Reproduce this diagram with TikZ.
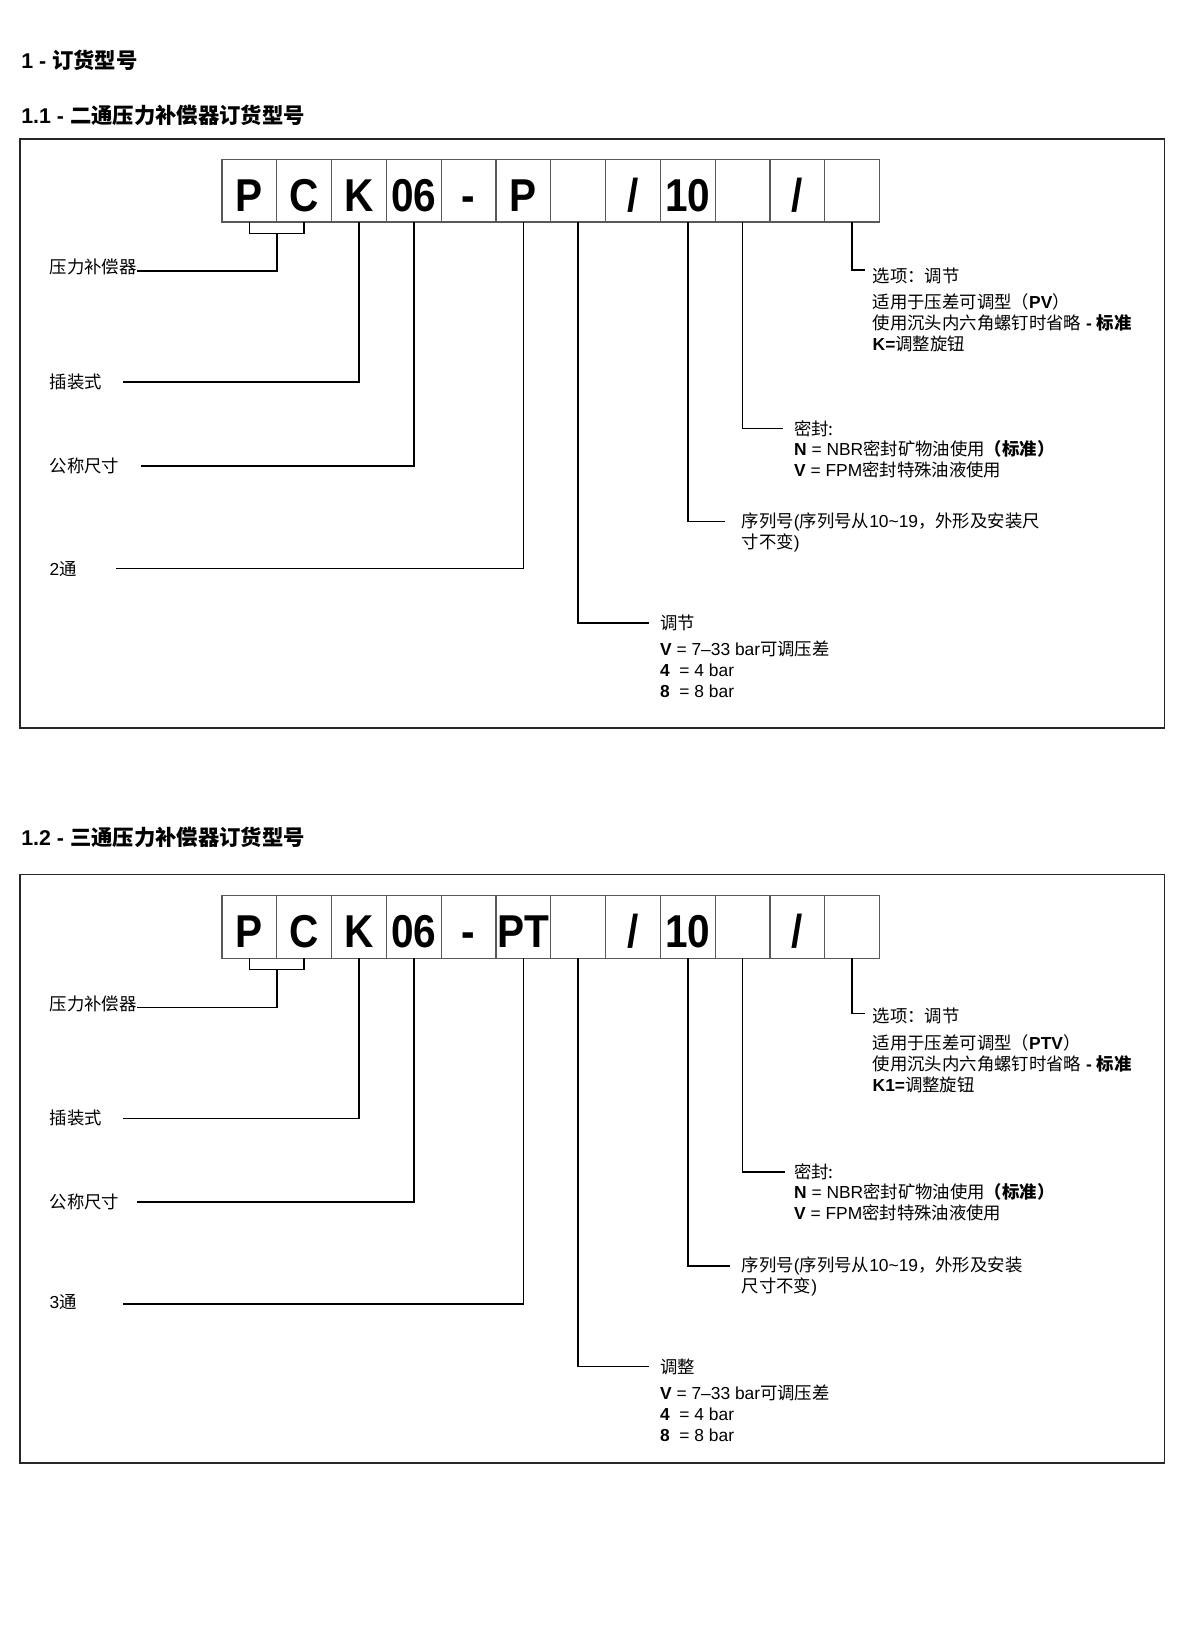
\documentclass[tikz,border=0pt]{standalone}
\usepackage{fontspec}
\setmainfont{Liberation Sans}
\newfontfamily\cjk{Noto Sans CJK SC}
\newfontfamily\codefont[FakeStretch=0.88]{Liberation Sans}
\usetikzlibrary{positioning}
\newcommand{\zh}[1]{{\cjk #1}}
\newcommand{\zhb}[1]{{\cjk\bfseries #1}}
\newcommand{\bodyfont}{\fontsize{8.3}{10}\selectfont}
\newcommand{\headfont}{\fontsize{10.2}{12}\selectfont\bfseries}
\tikzset{
  codecell/.style={draw=black!65, line width=0.6pt, anchor=north west,
    minimum width=26.17pt, minimum height=30pt, inner sep=0pt, outer sep=0pt,
    font=\codefont\fontsize{22}{22}\selectfont\bfseries,
    text height=20pt, text depth=0pt},
  lead/.style={draw=black, line width=0.75pt},
  frame/.style={draw=black!85, line width=0.8pt},
  heading/.style={anchor=west, inner sep=0pt, font=\headfont},
  tag/.style={anchor=west, inner sep=0pt, font=\bodyfont},
  note/.style={align=left, inner sep=0pt, font=\bodyfont}
}

\begin{document}
\begin{tikzpicture}[x=0.5pt, y=0.5pt]
  \useasboundingbox (0,0) rectangle (1146,-1568);

  % headings
  \node[heading] (h1) at (20,-58) {1 - \zh{订货型号}};
  \node[heading] (h11) at (20,-110) {1.1 - \zh{二通压力补偿器订货型号}};
  \node[heading] (h12) at (20,-800) {1.2 - \zh{三通压力补偿器订货型号}};

  % 1.1 two-way
  \draw[frame] (19,-133) rectangle (1112,-695);
  \foreach \t [count=\i] in {P,C,K,06,-,P,{},/,10,{},/,{}}
    \node[codecell] (a\i) at ({212+52.33*(\i-1)},-152) {\t};

  \node[tag] (pcA) at (47,-255) {\zh{压力补偿器}};
  \draw[lead] (a1.south) -- ++(0,-11) -| (a2.south);
  \draw[lead] (a1.south east) ++(0,-11) |- ([yshift=-2pt]pcA.east);
  \node[tag] (insA) at (47,-365) {\zh{插装式}};
  \draw[lead] (a3.south) |- ([xshift=10pt]insA.east);
  \node[tag] (sizA) at (47,-445) {\zh{公称尺寸}};
  \draw[lead] (a4.south) |- ([xshift=10pt]sizA.east);
  \node[tag] (wayA) at (47,-543) {2\zh{通}};
  \draw[lead] (a6.south) |- ([xshift=18.5pt]wayA.east);

  \node[tag] (adjA) at (630,-595) {\zh{调节}};
  \node[note, below=4.5pt of adjA.south west, anchor=north west] (adjB)
    {\textbf{V} = 7–33 bar\zh{可调压差}\\\textbf{4}~~= 4 bar\\\textbf{8}~~= 8 bar};
  \draw[lead] (a7.south) |- ([xshift=-5pt]adjA.west);

  \node[tag] (serA) at (708,-498)
    {\zh{序列号}(\zh{序列号从}10\textasciitilde 19\zh{，外形及安装尺}};
  \node[note, below=1pt of serA.south west, anchor=north west] (serB) {\zh{寸不变})};
  \draw[lead] (a9.south) |- ([xshift=-8pt]serA.west);

  \node[tag] (sealA) at (758,-409) {\zh{密封:}};
  \node[note, below=1.5pt of sealA.south west, anchor=north west] (sealB)
    {\textbf{N} = NBR\zh{密封矿物油使用}\zhb{（标准）}\\\textbf{V} = FPM\zh{密封特殊油液使用}};
  \draw[lead] (a10.south) |- ([xshift=-5pt]sealA.west);

  \node[tag] (optA) at (833,-263) {\zh{选项：调节}};
  \node[note, below=4.5pt of optA.south west, anchor=north west] (optB)
    {\zh{适用于压差可调型（}\textbf{PV}\zh{）}\\
     \zh{使用沉头内六角螺钉时省略} \textbf{-} \zhb{标准}\\
     \textbf{K=}\zh{调整旋钮}};
  \draw[lead] (a12.south) |- ([xshift=-3.5pt,yshift=2.5pt]optA.west);

  % 1.2 three-way
  \draw[frame] (19,-835) rectangle (1112,-1397);
  \foreach \t [count=\i] in {P,C,K,06,-,PT,{},/,10,{},/,{}}
    \node[codecell] (b\i) at ({212+52.33*(\i-1)},-855) {\t};

  \node[tag] (pcB) at (47,-959) {\zh{压力补偿器}};
  \draw[lead] (b1.south) -- ++(0,-11) -| (b2.south);
  \draw[lead] (b1.south east) ++(0,-11) |- ([yshift=-1.5pt]pcB.east);
  \node[tag] (insB) at (47,-1068) {\zh{插装式}};
  \draw[lead] (b3.south) |- ([xshift=10pt]insB.east);
  \node[tag] (sizB) at (47,-1148) {\zh{公称尺寸}};
  \draw[lead] (b4.south) |- ([xshift=8.5pt]sizB.east);
  \node[tag] (wayB) at (47,-1243) {3\zh{通}};
  \draw[lead] (b6.south) |- ([xshift=22pt,yshift=-1pt]wayB.east);

  \node[tag] (adjC) at (630,-1305) {\zh{调整}};
  \node[note, below=4.5pt of adjC.south west, anchor=north west] (adjD)
    {\textbf{V} = 7–33 bar\zh{可调压差}\\\textbf{4}~~= 4 bar\\\textbf{8}~~= 8 bar};
  \draw[lead] (b7.south) |- ([xshift=-5pt]adjC.west);

  \node[tag] (serC) at (708,-1209)
    {\zh{序列号}(\zh{序列号从}10\textasciitilde 19\zh{，外形及安装}};
  \node[note, below=1pt of serC.south west, anchor=north west] (serD) {\zh{尺寸不变})};
  \draw[lead] (b9.south) |- ([xshift=-5.5pt]serC.west);

  \node[tag] (sealC) at (758,-1119) {\zh{密封:}};
  \node[note, below=1.5pt of sealC.south west, anchor=north west] (sealD)
    {\textbf{N} = NBR\zh{密封矿物油使用}\zhb{（标准）}\\\textbf{V} = FPM\zh{密封特殊油液使用}};
  \draw[lead] (b10.south) |- ([xshift=-4pt]sealC.west);

  \node[tag] (optC) at (833,-970) {\zh{选项：调节}};
  \node[note, below=5pt of optC.south west, anchor=north west] (optD)
    {\zh{适用于压差可调型（}\textbf{PTV}\zh{）}\\
     \zh{使用沉头内六角螺钉时省略} \textbf{-} \zhb{标准}\\
     \textbf{K1=}\zh{调整旋钮}};
  \draw[lead] (b12.south) |- ([xshift=-3.5pt,yshift=1pt]optC.west);
\end{tikzpicture}
\end{document}
